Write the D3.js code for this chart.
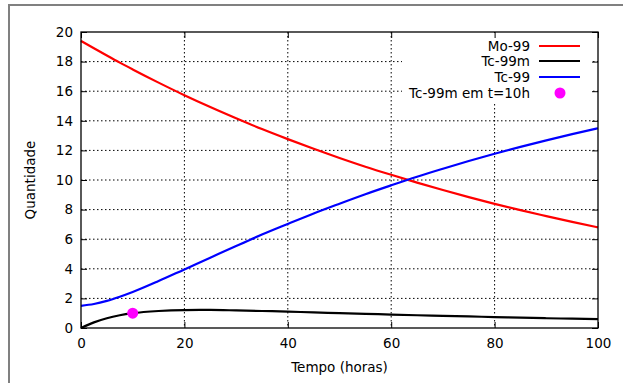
<!DOCTYPE html>
<html><head><meta charset="utf-8">
<script src="https://cdn.jsdelivr.net/npm/d3@7"></script>
<style>body{margin:0;background:#fff}svg{display:block;font-family:"DejaVu Sans",sans-serif}</style>
</head><body><svg id="c" width="623" height="383"></svg>
<script>
const times   = [0,2.5,5,7.5,10,15,20,25,30,35,40,45,50,55,60,65,70,75,80,85,90,95,100];
const mo99    = [19.4,18.90,18.41,17.93,17.47,16.58,15.73,14.93,14.17,13.44,12.76,12.11,11.49,10.90,10.35,9.82,9.32,8.84,8.39,7.96,7.56,7.17,6.80];
const tc99m   = [0,0.38,0.66,0.86,1.00,1.15,1.21,1.22,1.19,1.15,1.11,1.05,1.01,0.96,0.91,0.86,0.82,0.78,0.74,0.70,0.66,0.63,0.60];
const tc99    = [1.5,1.62,1.83,2.11,2.43,3.17,3.96,4.75,5.54,6.31,7.03,7.74,8.40,9.04,9.64,10.22,10.76,11.28,11.77,12.24,12.68,13.10,13.50];
const pointT  = [10];
const pointV  = [1.0];
const xTicks  = [0,20,40,60,80,100];
const yTicks  = [0,2,4,6,8,10,12,14,16,18,20];
const seriesNames = ["Mo-99","Tc-99m","Tc-99"];
const seriesColors = ["#ff0000","#000000","#0000ff"];
const pointName = "Tc-99m em t=10h";
const pointColor = "#ff00ff";

const svg = d3.select("#c");
const L=81, R=598, T=32, B=328;
const FS = 13.5;
const x = d3.scaleLinear().domain([0,100]).range([L,R]);
const y = d3.scaleLinear().domain([0,20]).range([B,T]);

// outer frame (partial)
svg.append("path").attr("d","M9,383V5H623").attr("fill","none").attr("stroke","#808080").attr("stroke-width",2);

// grid
const g = svg.append("g");
xTicks.filter(v=>v>0&&v<100).forEach(v=>{
  g.append("line").attr("x1",x(v)).attr("x2",x(v)).attr("y1",T).attr("y2",B)
   .attr("stroke","#000").attr("stroke-width",1).attr("stroke-dasharray","1.5,2.5");
});
yTicks.filter(v=>v>0&&v<20).forEach(v=>{
  g.append("line").attr("x1",L).attr("x2",R).attr("y1",y(v)).attr("y2",y(v))
   .attr("stroke","#000").attr("stroke-width",1).attr("stroke-dasharray","1.5,2.5");
});

// legend background box (opaque)
svg.append("rect").attr("x",402).attr("y",T+1).attr("width",190).attr("height",71).attr("fill","#fff");

// axes with inward ticks, mirrored
const fmt = d3.format("d");
const ax = svg.append("g").attr("transform",`translate(0,${B})`)
  .call(d3.axisBottom(x).tickValues(xTicks).tickFormat(fmt).tickSize(-6).tickPadding(10));
const ax2 = svg.append("g").attr("transform",`translate(0,${T})`)
  .call(d3.axisTop(x).tickValues(xTicks).tickFormat("").tickSize(-6));
const ay = svg.append("g").attr("transform",`translate(${L},0)`)
  .call(d3.axisLeft(y).tickValues(yTicks).tickFormat(fmt).tickSize(-6).tickPadding(10));
const ay2 = svg.append("g").attr("transform",`translate(${R},0)`)
  .call(d3.axisRight(y).tickValues(yTicks).tickFormat("").tickSize(-6));
[ax,ax2,ay,ay2].forEach(a=>{
  a.select(".domain").remove();
  a.selectAll("line").attr("stroke","#000").attr("stroke-width",1);
  a.selectAll("text").attr("font-family","DejaVu Sans").attr("font-size",FS).attr("fill","#000");
});
ay.selectAll("text").attr("dx",2);

// series
const line = d3.line().curve(d3.curveMonotoneX);
const data = [mo99,tc99m,tc99];
data.forEach((vals,i)=>{
  svg.append("path").attr("d",line(times.map((t,j)=>[x(t),y(vals[j])])))
    .attr("fill","none").attr("stroke",seriesColors[i]).attr("stroke-width",2.2);
});
pointT.forEach((t,i)=>{
  svg.append("circle").attr("cx",x(t)).attr("cy",y(pointV[i])).attr("r",5.5).attr("fill",pointColor);
});

// border
svg.append("rect").attr("x",L).attr("y",T).attr("width",R-L).attr("height",B-T)
  .attr("fill","none").attr("stroke","#000").attr("stroke-width",1.3);

// legend
const legY = [46,61,77];
seriesNames.forEach((n,i)=>{
  svg.append("text").attr("x",530).attr("y",legY[i]).attr("dy","0.35em").attr("text-anchor","end")
    .attr("font-size",FS).text(n);
  svg.append("line").attr("x1",539).attr("x2",580).attr("y1",legY[i]).attr("y2",legY[i])
    .attr("stroke",seriesColors[i]).attr("stroke-width",2.2);
});
svg.append("text").attr("x",530).attr("y",93).attr("dy","0.35em").attr("text-anchor","end")
  .attr("font-size",FS).text(pointName);
svg.append("circle").attr("cx",560).attr("cy",93).attr("r",5.5).attr("fill",pointColor);

// axis titles
svg.append("text").attr("x",(L+R)/2).attr("y",372).attr("text-anchor","middle").attr("font-size",FS).text("Tempo (horas)");
svg.append("text").attr("transform",`translate(35,${(T+B)/2}) rotate(-90)`).attr("text-anchor","middle").attr("font-size",FS).text("Quantidade");
</script></body></html>
